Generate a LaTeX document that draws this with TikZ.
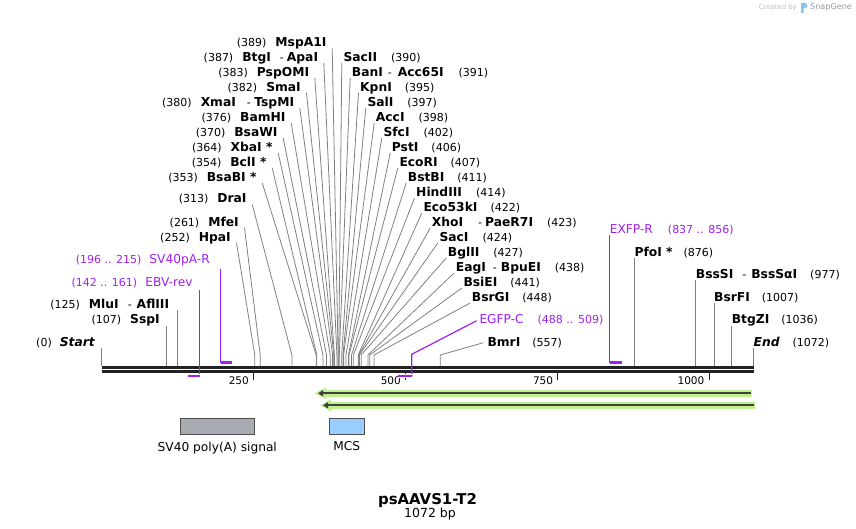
\documentclass[tikz,border=0pt]{standalone}
\usepackage{fontspec}
\setmainfont{DejaVu Sans}
\usepackage{tikz}
\usetikzlibrary{calc}
\usetikzlibrary{arrows.meta}
\usetikzlibrary{positioning}
\usepackage{color}
\definecolor{primer}{RGB}{160, 32, 240}
\definecolor{leader}{RGB}{128, 128, 128}
\definecolor{seqline}{RGB}{34, 34, 34}
\definecolor{glowgreen}{RGB}{190, 240, 140}
\definecolor{strand}{RGB}{64, 64, 64}
\definecolor{polyagray}{RGB}{168, 172, 178}
\definecolor{mcsblue}{RGB}{153, 204, 255}
\definecolor{boxedge}{RGB}{80, 80, 80}
\definecolor{credit}{RGB}{190, 190, 190}
\definecolor{logoblue}{RGB}{130, 200, 240}
\newcommand{\ename}[1]{{\fontsize{12.3}{14}\selectfont\bfseries #1}}
\newcommand{\epos}[1]{{\fontsize{11}{13}\selectfont(#1)}}

\begin{document}
\begin{tikzpicture}[x=1pt, y=-1pt,
    enz/.style={inner sep=0pt, font=\fontsize{11}{13}\selectfont},
    oligo/.style={inner xsep=0pt, inner ysep=2pt, fill=white, text=primer, font=\fontsize{12.2}{14}\selectfont},
    cut/.style={draw=leader, line width=0.8pt},
    seq/.style={draw=seqline, line width=2.4pt},
    tick/.style={draw=seqline, line width=1.7pt},
    primerline/.style={draw=primer, line width=1.2pt},
    primerbar/.style={draw=primer, line width=2.2pt, preaction={draw=white, line width=4.5pt}},
    featbox/.style={draw=boxedge, line width=0.8pt, minimum height=16pt, inner sep=0pt},
    featlbl/.style={inner sep=0pt, font=\fontsize{12.2}{14}\selectfont}]
            \useasboundingbox (0,0) rectangle (856,529);
            % Sites on the sequence
            \coordinate (s0)    at (101.5,366);
            \coordinate (s107)  at (166.6,366);
            \coordinate (s125)  at (177.5,366);
            \coordinate (s252)  at (254.8,366);
            \coordinate (s261)  at (260.2,366);
            \coordinate (s313)  at (291.9,366);
            \coordinate (s353)  at (316.2,366);
            \coordinate (s354)  at (316.8,366);
            \coordinate (s364)  at (322.9,366);
            \coordinate (s370)  at (326.5,366);
            \coordinate (s376)  at (330.2,366);
            \coordinate (s380)  at (332.6,366);
            \coordinate (s382)  at (333.8,366);
            \coordinate (s383)  at (334.4,366);
            \coordinate (s387)  at (336.9,366);
            \coordinate (s389)  at (338.1,366);
            \coordinate (s390)  at (338.7,366);
            \coordinate (s391)  at (339.3,366);
            \coordinate (s395)  at (341.7,366);
            \coordinate (s397)  at (343.0,366);
            \coordinate (s398)  at (343.6,366);
            \coordinate (s402)  at (346.0,366);
            \coordinate (s406)  at (348.4,366);
            \coordinate (s407)  at (349.0,366);
            \coordinate (s411)  at (351.5,366);
            \coordinate (s414)  at (353.3,366);
            \coordinate (s422)  at (358.2,366);
            \coordinate (s423)  at (358.8,366);
            \coordinate (s424)  at (359.4,366);
            \coordinate (s427)  at (361.2,366);
            \coordinate (s438)  at (367.9,366);
            \coordinate (s441)  at (369.7,366);
            \coordinate (s448)  at (374.0,366);
            \coordinate (s557)  at (440.3,366);
            \coordinate (s876)  at (634.3,366);
            \coordinate (s977)  at (695.7,366);
            \coordinate (s1007) at (714.0,366);
            \coordinate (s1036) at (731.6,366);
            \coordinate (s1072) at (753.5,366);
            % Sequence & ruler
            \draw[seq] (101.5,367.3) -- (754,367.3);
            \draw[seq] (101.5,371.3) -- (754,371.3);
            \draw[tick] (253.5,372) -- (253.5,380);
            \draw[tick] (405.5,372) -- (405.5,380);
            \draw[tick] (557.5,372) -- (557.5,380);
            \draw[tick] (709.5,372) -- (709.5,380);
            \node[enz, anchor=base east, font=\fontsize{10.5}{12}\selectfont] (t250)  at (249.0,384) {250};
            \node[enz, anchor=base east, font=\fontsize{10.5}{12}\selectfont] (t500)  at (401.0,384) {500};
            \node[enz, anchor=base east, font=\fontsize{10.5}{12}\selectfont] (t750)  at (553.3,384) {750};
            \node[enz, anchor=base east, font=\fontsize{10.5}{12}\selectfont] (t1000) at (704.5,384) {1000};
            % Left fan
            \node[enz, anchor=base east] (MspA1I) at (326.7, 46.8) {\epos{389}\hspace{9pt}\ename{MspA1I}};
            \node[enz, anchor=base east] (BtgI)   at (318.3, 61.5) {\epos{387}\hspace{9pt}\ename{BtgI}\hspace{9pt}-\hspace{3pt}\ename{ApaI}};
            \node[enz, anchor=base east] (PspOMI) at (309.3, 76.5) {\epos{383}\hspace{9pt}\ename{PspOMI}};
            \node[enz, anchor=base east] (SmaI)   at (301.0, 91.5) {\epos{382}\hspace{9pt}\ename{SmaI}};
            \node[enz, anchor=base east] (XmaI)   at (294.3,106.5) {\epos{380}\hspace{9pt}\ename{XmaI}\hspace{11pt}-\hspace{3.5pt}\ename{TspMI}};
            \node[enz, anchor=base east] (BamHI)  at (285.7,121.5) {\epos{376}\hspace{9pt}\ename{BamHI}};
            \node[enz, anchor=base east] (BsaWI)  at (277.7,136.5) {\epos{370}\hspace{9pt}\ename{BsaWI}};
            \node[enz, anchor=base east] (XbaI)   at (272.7,151.5) {\epos{364}\hspace{9pt}\ename{XbaI *}};
            \node[enz, anchor=base east] (BclI)   at (266.7,166.5) {\epos{354}\hspace{9pt}\ename{BclI *}};
            \node[enz, anchor=base east] (BsaBI)  at (256.7,181.5) {\epos{353}\hspace{9pt}\ename{BsaBI *}};
            \node[enz, anchor=base east] (DraI)   at (246.7,202.8) {\epos{313}\hspace{9pt}\ename{DraI}};
            \node[enz, anchor=base east] (MfeI)   at (239.0,226.2) {\epos{261}\hspace{9pt}\ename{MfeI}};
            \node[enz, anchor=base east] (HpaI)   at (231.0,241.2) {\epos{252}\hspace{9pt}\ename{HpaI}};
            \draw[cut] (MspA1I.base east) ++(5.5,1.5) -- ([yshift=11pt]s389) -- (s389);
            \draw[cut] (BtgI.base east)   ++(5.5,1.5) -- ([yshift=11pt]s387) -- (s387);
            \draw[cut] (PspOMI.base east) ++(5.5,1.5) -- ([yshift=11pt]s383) -- (s383);
            \draw[cut] (SmaI.base east)   ++(5.5,1.5) -- ([yshift=11pt]s382) -- (s382);
            \draw[cut] (XmaI.base east)   ++(5.5,1.5) -- ([yshift=11pt]s380) -- (s380);
            \draw[cut] (BamHI.base east)  ++(5.5,1.5) -- ([yshift=11pt]s376) -- (s376);
            \draw[cut] (BsaWI.base east)  ++(5.5,1.5) -- ([yshift=11pt]s370) -- (s370);
            \draw[cut] (XbaI.base east)   ++(5.5,1.5) -- ([yshift=11pt]s364) -- (s364);
            \draw[cut] (BclI.base east)   ++(5.5,1.5) -- ([yshift=11pt]s354) -- (s354);
            \draw[cut] (BsaBI.base east)  ++(5.5,1.5) -- ([yshift=11pt]s353) -- (s353);
            \draw[cut] (DraI.base east)   ++(5.5,1.5) -- ([yshift=11pt]s313) -- (s313);
            \draw[cut] (MfeI.base east)   ++(5.5,1.5) -- ([yshift=11pt]s261) -- (s261);
            \draw[cut] (HpaI.base east)   ++(5.5,1.5) -- ([yshift=11pt]s252) -- (s252);
            % Right fan
            \node[enz, anchor=base west] (SacII)   at (343.3, 61.5) {\ename{SacII}\hspace{14pt}\epos{390}};
            \node[enz, anchor=base west] (BanI)    at (351.7, 76.5) {\ename{BanI}\hspace{5pt}-\hspace{6pt}\ename{Acc65I}\hspace{15pt}\epos{391}};
            \node[enz, anchor=base west] (KpnI)    at (360.0, 91.5) {\ename{KpnI}\hspace{13pt}\epos{395}};
            \node[enz, anchor=base west] (SalI)    at (367.3,106.5) {\ename{SalI}\hspace{14pt}\epos{397}};
            \node[enz, anchor=base west] (AccI)    at (375.7,121.5) {\ename{AccI}\hspace{14pt}\epos{398}};
            \node[enz, anchor=base west] (SfcI)    at (383.3,136.5) {\ename{SfcI}\hspace{14pt}\epos{402}};
            \node[enz, anchor=base west] (PstI)    at (391.7,151.5) {\ename{PstI}\hspace{13pt}\epos{406}};
            \node[enz, anchor=base west] (EcoRI)   at (399.3,166.5) {\ename{EcoRI}\hspace{13pt}\epos{407}};
            \node[enz, anchor=base west] (BstBI)   at (407.7,181.5) {\ename{BstBI}\hspace{13pt}\epos{411}};
            \node[enz, anchor=base west] (HindIII) at (416.0,196.5) {\ename{HindIII}\hspace{14pt}\epos{414}};
            \node[enz, anchor=base west] (Eco53kI) at (423.3,211.5) {\ename{Eco53kI}\hspace{13pt}\epos{422}};
            \node[enz, anchor=base west] (XhoI)    at (431.7,226.5) {\ename{XhoI}\hspace{15pt}-\hspace{3pt}\ename{PaeR7I}\hspace{14pt}\epos{423}};
            \node[enz, anchor=base west] (SacI)    at (439.3,241.5) {\ename{SacI}\hspace{14pt}\epos{424}};
            \node[enz, anchor=base west] (BglII)   at (447.7,256.5) {\ename{BglII}\hspace{14pt}\epos{427}};
            \node[enz, anchor=base west] (EagI)    at (455.7,271.5) {\ename{EagI}\hspace{7pt}-\hspace{4pt}\ename{BpuEI}\hspace{14pt}\epos{438}};
            \node[enz, anchor=base west] (BsiEI)   at (463.3,286.5) {\ename{BsiEI}\hspace{13pt}\epos{441}};
            \node[enz, anchor=base west] (BsrGI)   at (471.7,301.5) {\ename{BsrGI}\hspace{13pt}\epos{448}};
            \draw[cut] (SacII.base west)   ++(-1.5,1.5) -- ([yshift=11pt]s390) -- (s390);
            \draw[cut] (BanI.base west)    ++(-1.5,1.5) -- ([yshift=11pt]s391) -- (s391);
            \draw[cut] (KpnI.base west)    ++(-1.5,1.5) -- ([yshift=11pt]s395) -- (s395);
            \draw[cut] (SalI.base west)    ++(-1.5,1.5) -- ([yshift=11pt]s397) -- (s397);
            \draw[cut] (AccI.base west)    ++(-1.5,1.5) -- ([yshift=11pt]s398) -- (s398);
            \draw[cut] (SfcI.base west)    ++(-1.5,1.5) -- ([yshift=11pt]s402) -- (s402);
            \draw[cut] (PstI.base west)    ++(-1.5,1.5) -- ([yshift=11pt]s406) -- (s406);
            \draw[cut] (EcoRI.base west)   ++(-1.5,1.5) -- ([yshift=11pt]s407) -- (s407);
            \draw[cut] (BstBI.base west)   ++(-1.5,1.5) -- ([yshift=11pt]s411) -- (s411);
            \draw[cut] (HindIII.base west) ++(-1.5,1.5) -- ([yshift=11pt]s414) -- (s414);
            \draw[cut] (Eco53kI.base west) ++(-1.5,1.5) -- ([yshift=11pt]s422) -- (s422);
            \draw[cut] (XhoI.base west)    ++(-1.5,1.5) -- ([yshift=11pt]s423) -- (s423);
            \draw[cut] (SacI.base west)    ++(-1.5,1.5) -- ([yshift=11pt]s424) -- (s424);
            \draw[cut] (BglII.base west)   ++(-1.5,1.5) -- ([yshift=11pt]s427) -- (s427);
            \draw[cut] (EagI.base west)    ++(-1.5,1.5) -- ([yshift=11pt]s438) -- (s438);
            \draw[cut] (BsiEI.base west)   ++(-1.5,1.5) -- ([yshift=11pt]s441) -- (s441);
            \draw[cut] (BsrGI.base west)   ++(-1.5,1.5) -- ([yshift=11pt]s448) -- (s448);
            \node[enz, anchor=base west] (BmrI)    at (487.3,346.2) {\ename{BmrI}\hspace{12pt}\epos{557}};
            \draw[cut] (BmrI.base west)    ++(-4,-3.5) -- ([yshift=11pt]s557) -- (s557);
            % Single sites, straight down
            \node[enz, anchor=base east] (Start) at ( 95.0,346.2) {\epos{0}\hspace{8pt}\ename{\itshape Start}};
            \node[enz, anchor=base east] (SspI)  at (160.0,323.5) {\epos{107}\hspace{9pt}\ename{SspI}};
            \node[enz, anchor=base east] (MluI)  at (169.3,308.5) {\epos{125}\hspace{9pt}\ename{MluI}\hspace{9pt}-\hspace{5pt}\ename{AflIII}};
            \node[enz, anchor=base west] (PfoI)  at (634.3,256.8) {\ename{PfoI *}\hspace{11pt}\epos{876}};
            \node[enz, anchor=base west] (BssSI) at (695.7,278.5) {\ename{BssSI}\hspace{9pt}-\hspace{5pt}\ename{BssSαI}\hspace{13pt}\epos{977}};
            \node[enz, anchor=base west] (BsrFI) at (714.0,301.8) {\ename{BsrFI}\hspace{12pt}\epos{1007}};
            \node[enz, anchor=base west] (BtgZI) at (731.6,323.5) {\ename{BtgZI}\hspace{12pt}\epos{1036}};
            \node[enz, anchor=base west] (End)   at (753.5,346.2) {\ename{\itshape End}\hspace{13pt}\epos{1072}};
            \draw[cut] (s0 |- Start.south)    -- (s0);
            \draw[cut] (s107 |- SspI.south)   -- (s107);
            \draw[cut] (s125 |- MluI.south)   -- (s125);
            \draw[cut] (s876 |- PfoI.south)   -- (s876);
            \draw[cut] (s977 |- BssSI.south)  -- (s977);
            \draw[cut] (s1007 |- BsrFI.south) -- (s1007);
            \draw[cut] (s1036 |- BtgZI.south) -- (s1036);
            \draw[cut] (s1072 |- End.south)   -- (s1072);
            % Primers
            \coordinate (p196) at (220.7,362.5);
            \coordinate (p215) at (231.8,362.5);
            \coordinate (p142) at (187.9,376.0);
            \coordinate (p161) at (199.7,376.0);
            \coordinate (p837) at (609.7,362.5);
            \coordinate (p856) at (621.5,362.5);
            \coordinate (p488) at (398.2,376.0);
            \coordinate (p509) at (411.7,376.0);
            \node[oligo, anchor=base east] (SVpA)  at (210.0,263.8) {\epos{196 .. 215}\hspace{8pt}SV40pA-R};
            \node[oligo, anchor=base east] (EBV)   at (192.7,286.2) {\epos{142 .. 161}\hspace{8pt}EBV-rev};
            \node[oligo, anchor=base west] (EXFP)  at (609.7,233.5) {EXFP-R\hspace{15pt}\epos{837 .. 856}};
            \draw[primerline] (p196 |- SVpA.south) -- (p196);
            \draw[primerline] (p161 |- EBV.south)  -- (p161);
            \draw[primerline] (EXFP.base west) ++(0,1.5) -- (p837);
            \node[oligo, anchor=base west] (EGFP)  at (479.3,323.2) {EGFP-C\hspace{14pt}\epos{488 .. 509}};
            \draw[primerline] (EGFP.base west) ++(-2.6,-2.5) -- ([yshift=21.7pt]p509) -- (p509);
            \draw[primerbar] (p196) -- (p215);
            \draw[primerbar] (p142) -- (p161);
            \draw[primerbar] (p837) -- (p856);
            \draw[primerbar] (p488) -- (p509);
            % Features
            \coordinate (f1tip)  at (318,393.3);
            \coordinate (f1tail) at (750.7,393.3);
            \coordinate (f2tip)  at (323,405.3);
            \coordinate (f2tail) at (754,405.3);
            \fill[glowgreen] (315,393.3) -- (326,387.3) -- (326,389.8) -- (751.5,389.8) -- (751.5,396.8) -- (326,396.8) -- (326,399.3) -- cycle;
            \fill[glowgreen] (320,405.3) -- (331,399.3) -- (331,401.8) -- (755,401.8) -- (755,408.8) -- (331,408.8) -- (331,411.3) -- cycle;
            \draw[strand, line width=2pt, -{Triangle[length=5pt,width=6pt]}] (f1tail) -- (f1tip);
            \draw[strand, line width=2pt, -{Triangle[length=5pt,width=6pt]}] (f2tail) -- (f2tip);
            \node[featbox, fill=polyagray, minimum width=74pt] (polyA) at (217.3,426.3) {};
            \node[featbox, fill=mcsblue,   minimum width=35pt] (MCS)   at (346.8,426.3) {};
            \node[featlbl, below=7pt of polyA] (polyAlbl) {SV40 poly(A) signal};
            \node[featlbl, below=7pt of MCS]   (MCSlbl)   {MCS};
            % Title
            \node[inner sep=0pt, font=\fontsize{14.9}{17}\selectfont\bfseries, anchor=base] (title) at (427.5,504) {psAAVS1-T2};
            \node[inner sep=0pt, font=\fontsize{12.5}{14}\selectfont, anchor=base] (bplen) at (430,517.5) {1072 bp};
            % Credit
            \node[inner sep=0pt, text=credit, font=\fontsize{6.9}{8}\selectfont, anchor=east] (made) at (797,7.5) {Created by};
            \fill[logoblue] (801,13) -- (801,3) -- (805,3) .. controls (808,3) and (808,8) .. (805,8) -- (803.5,8) -- (803.5,13) -- cycle;
            \node[inner sep=0pt, text=credit!80!black, font=\fontsize{8.1}{10}\selectfont, anchor=west] (brand) at (810,7.5) {SnapGene};
\end{tikzpicture}
\end{document}
